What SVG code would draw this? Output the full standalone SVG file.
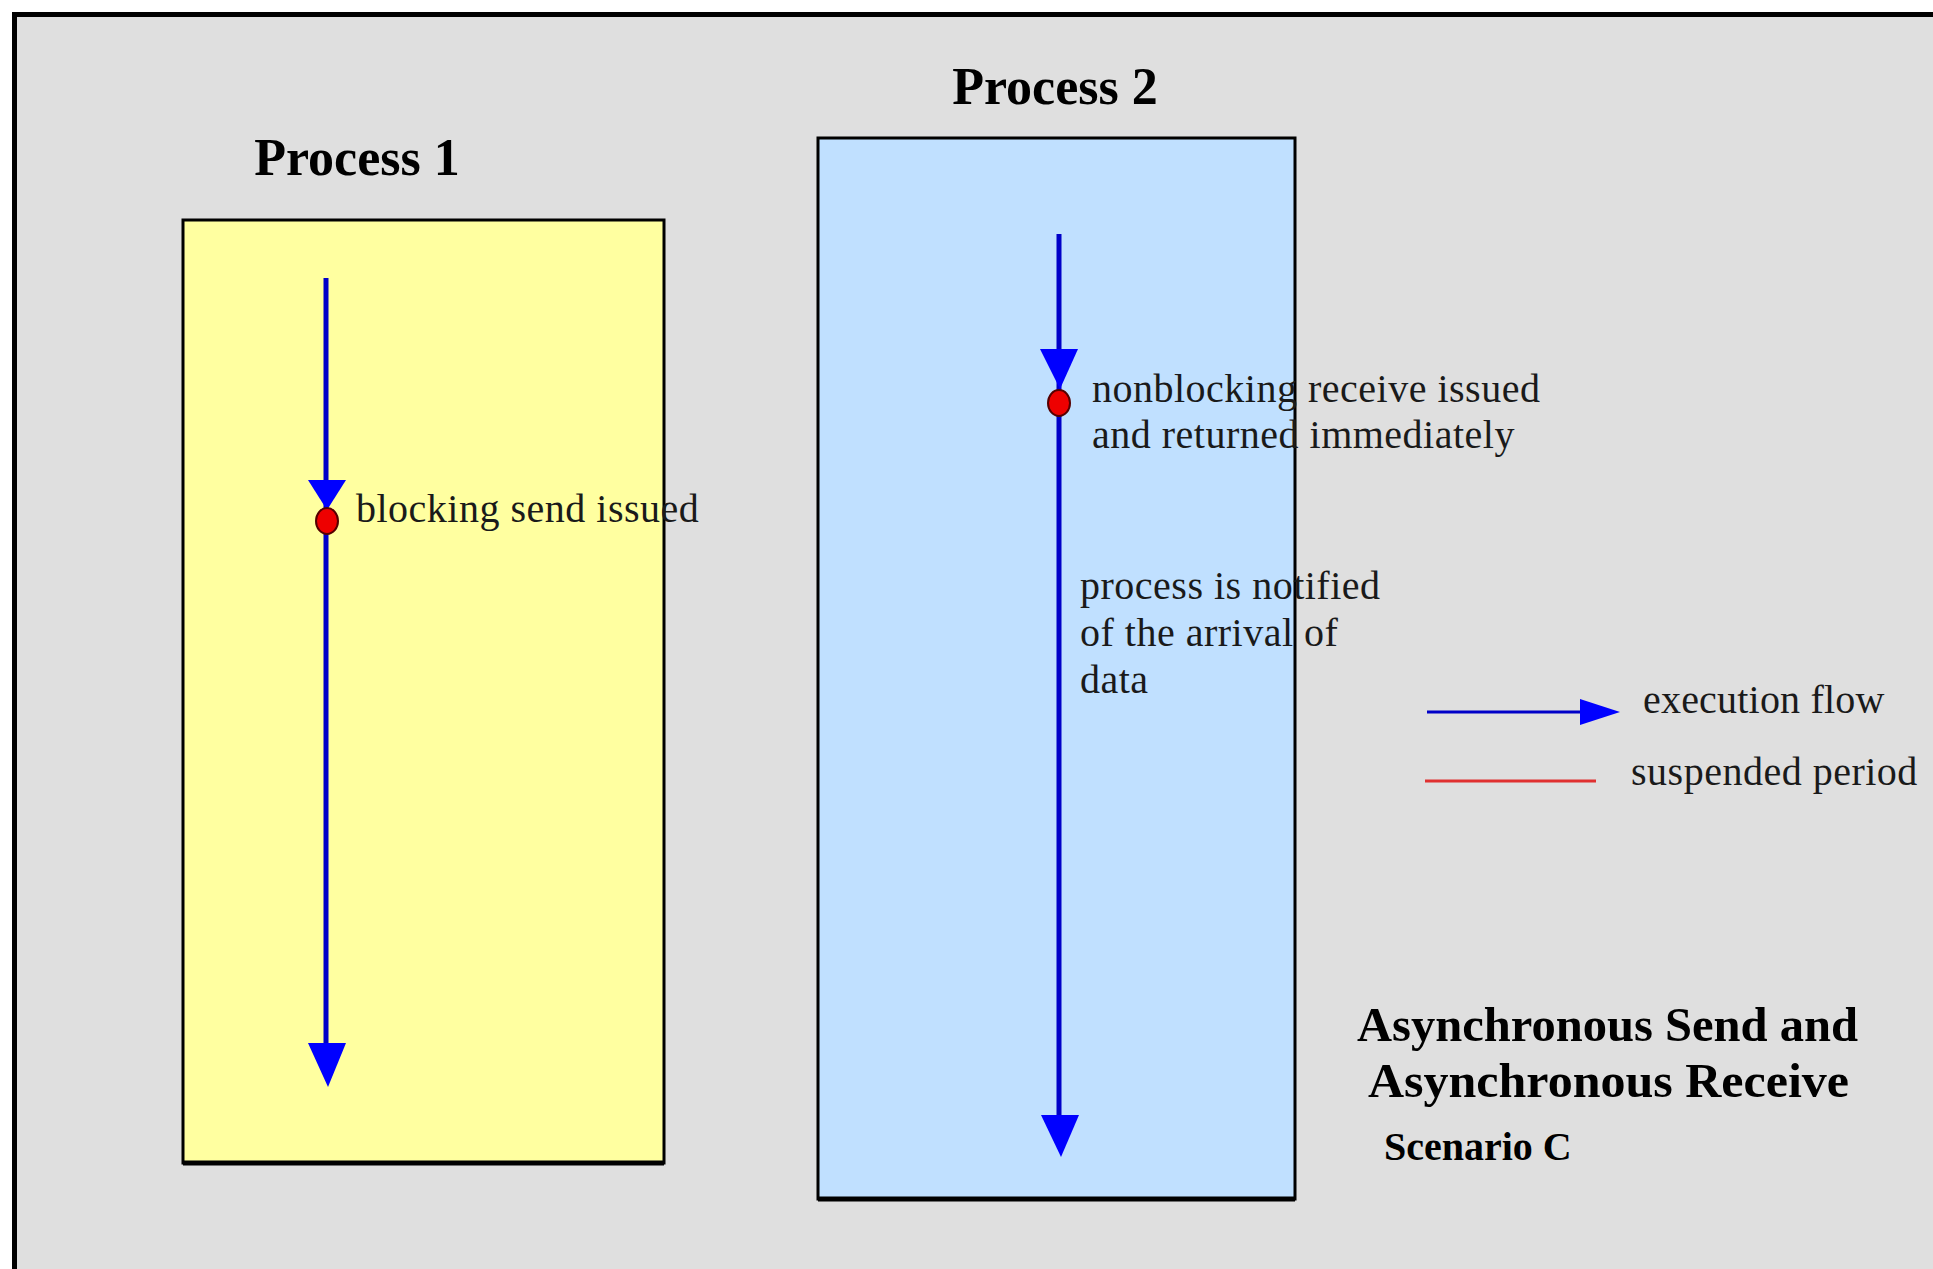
<svg xmlns="http://www.w3.org/2000/svg" width="1933" height="1269" viewBox="0 0 1933 1269">
  <style>
    .title { font-family: "Liberation Serif", "Times New Roman", serif; font-weight: bold; fill: #000; }
    .label { font-family: "Liberation Serif", "Times New Roman", serif; font-size: 40px; fill: #1a1a1a; letter-spacing: 0.5px; }
    .flow { stroke: #0000c8; stroke-width: 5; fill: none; }
    .head { fill: #0000ff; }
    .dot { fill: #ee0000; stroke: #550000; stroke-width: 2; }
    .box { stroke: #000; stroke-width: 3; }
  </style>
  <rect x="0" y="0" width="1933" height="1269" fill="#ffffff"/>
  <g id="frame">
    <rect x="14.5" y="14.5" width="1940" height="1280" fill="#dfdfdf" stroke="#000" stroke-width="5"/>
  </g>

  <g id="process1">
    <text class="title" x="357" y="175" font-size="52" text-anchor="middle">Process 1</text>
    <rect class="box" x="183" y="220" width="481" height="943" fill="#ffffa0"/>
    <line x1="183" y1="1163" x2="664" y2="1163" stroke="#000" stroke-width="5"/>
  </g>

  <g id="process2">
    <text class="title" x="1055" y="104" font-size="52" text-anchor="middle">Process 2</text>
    <rect class="box" x="818" y="138" width="477" height="1061" fill="#c0e0ff"/>
    <line x1="818" y1="1199" x2="1295" y2="1199" stroke="#000" stroke-width="5"/>
  </g>

  <g id="connectors">
    <!-- Process 1 flow -->
    <line class="flow" x1="326" y1="278" x2="326" y2="1050"/>
    <polygon class="head" points="308,480 346,480 327,510"/>
    <polygon class="head" points="308,1043 346,1043 328,1087"/>
    <!-- Process 2 flow -->
    <line class="flow" x1="1059" y1="234" x2="1059" y2="1120"/>
    <polygon class="head" points="1040,349 1078,349 1060,389"/>
    <polygon class="head" points="1041,1115 1079,1115 1061,1157"/>
  </g>

  <g id="event-send">
    <ellipse class="dot" cx="327" cy="521" rx="11" ry="13"/>
    <text class="label" x="356" y="522">blocking send issued</text>
  </g>

  <g id="event-receive">
    <ellipse class="dot" cx="1059" cy="403" rx="11" ry="13"/>
    <text class="label" x="1092" y="402">nonblocking receive issued</text>
    <text class="label" x="1092" y="448">and returned immediately</text>
  </g>

  <g id="event-notify">
    <text class="label" x="1080" y="599">process is notified</text>
    <text class="label" x="1080" y="646">of the arrival of</text>
    <text class="label" x="1080" y="693">data</text>
  </g>

  <g id="legend">
    <line x1="1427" y1="712" x2="1590" y2="712" stroke="#0000c8" stroke-width="3"/>
    <polygon class="head" points="1580,699 1620,712 1580,725"/>
    <text class="label" x="1643" y="713" style="letter-spacing:0.2px">execution flow</text>
    <line x1="1425" y1="781" x2="1596" y2="781" stroke="#e03030" stroke-width="3"/>
    <text class="label" x="1631" y="785">suspended period</text>
  </g>

  <g id="caption">
    <text class="title" x="1357" y="1041" font-size="48" textLength="501" lengthAdjust="spacingAndGlyphs">Asynchronous Send and</text>
    <text class="title" x="1368" y="1097" font-size="48" textLength="481" lengthAdjust="spacingAndGlyphs">Asynchronous Receive</text>
    <text class="title" x="1384" y="1160" font-size="40">Scenario C</text>
  </g>
</svg>
